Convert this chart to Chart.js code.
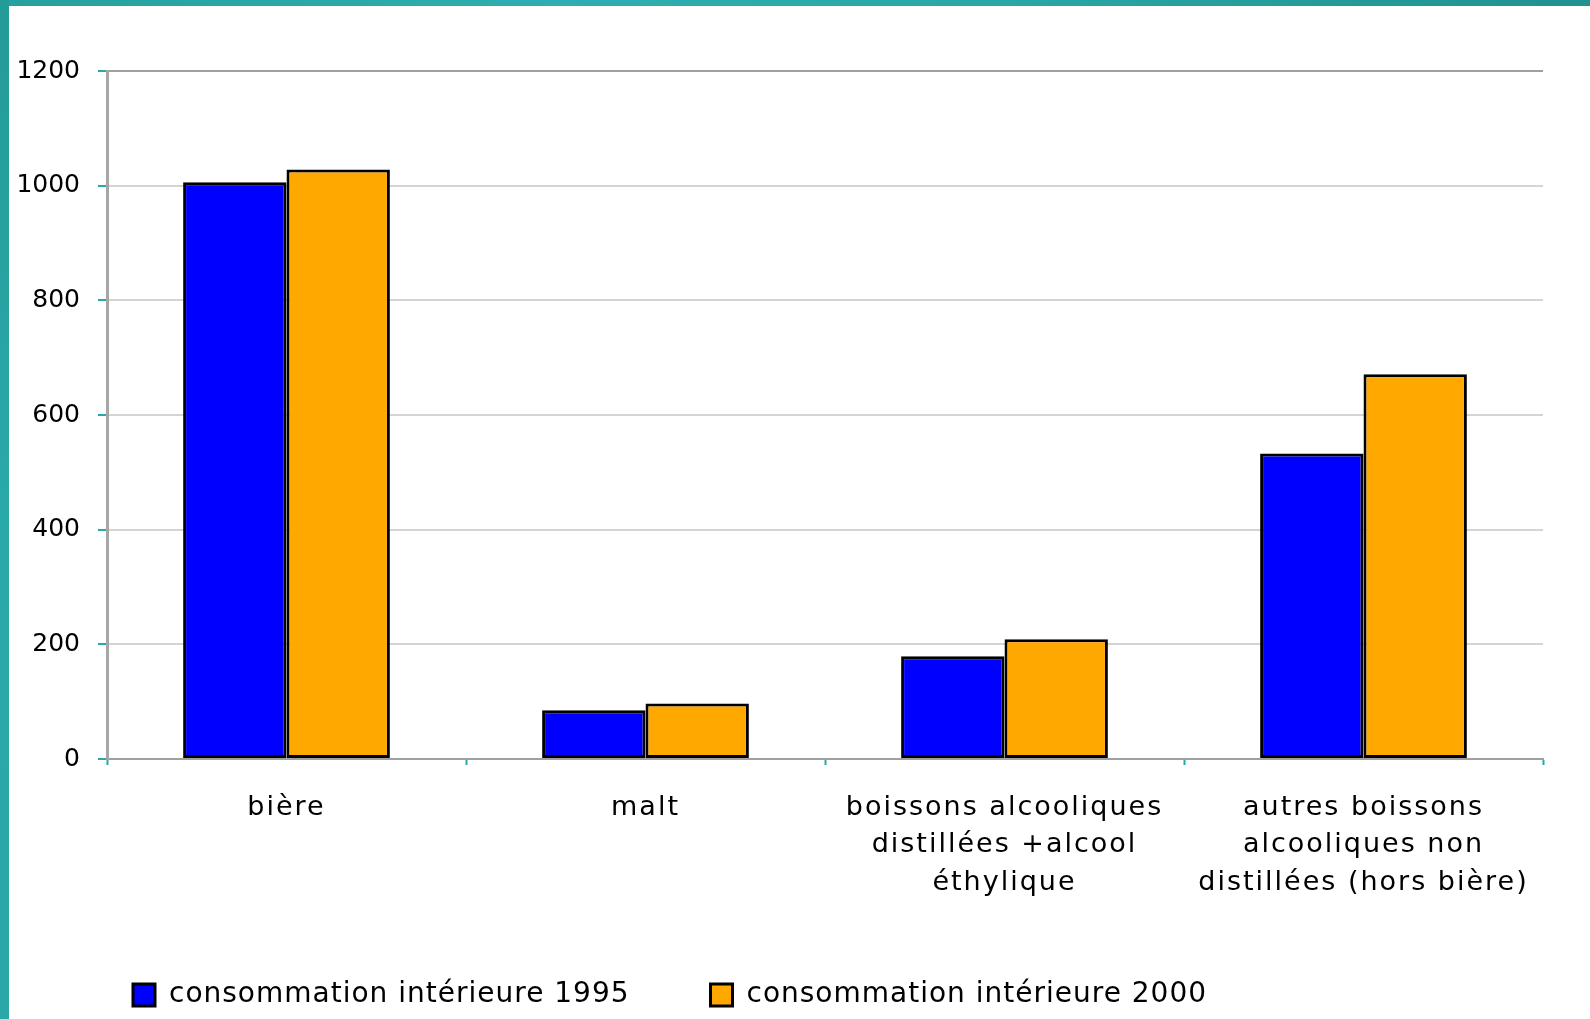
<!DOCTYPE html>
<html>
<head>
<meta charset="utf-8">
<script src="https://cdn.jsdelivr.net/npm/chart.js@4.4.1/dist/chart.umd.min.js"></script>
<style>
  html, body { margin: 0; padding: 0; background: #fff; }
  body { width: 1590px; height: 1019px; position: relative; overflow: hidden; }
  #topbar { position: absolute; left: 0; top: 0; width: 1590px; height: 6px;
    background: linear-gradient(to right, #26a09e 0%, #2eaeb1 35%, #2aa8a8 60%, #20928f 100%); }
  #leftbar { position: absolute; left: 0; top: 0; width: 9px; height: 1019px;
    background: linear-gradient(to bottom, #239b98 0%, #2aa9aa 50%, #2aa8a8 100%); }
  #wrap { position: absolute; left: 9px; top: 6px; width: 1581px; height: 1013px; }
</style>
</head>
<body>
<div id="topbar"></div>
<div id="leftbar"></div>
<div id="wrap"><canvas id="c"></canvas></div>
<script>
const categories = [
  "bière",
  "malt",
  ["boissons alcooliques", "distillées +alcool", "éthylique"],
  ["autres boissons", "alcooliques non", "distillées (hors bière)"]
];
const seriesNames = ["consommation intérieure 1995", "consommation intérieure 2000"];
const values1995 = [1006, 85, 179, 533];
const values2000 = [1028, 97, 209, 671];
const yTicks = [0, 200, 400, 600, 800, 1000, 1200];

const teal = "#2aa8a8";

function withSpacing(ctx, sp, fn) {
  const prev = ctx.letterSpacing;
  ctx.letterSpacing = sp;
  try { return fn(); } finally { ctx.letterSpacing = "0px"; }
}

function patchLegend(chart) {
  const lg = chart.legend;
  if (!lg || lg._patched) return;
  const ctx = chart.ctx;
  const origFit = lg.fit, origDraw = lg.draw;
  lg.fit = function () { return withSpacing(ctx, "1px", () => origFit.apply(this, arguments)); };
  lg.draw = function () { return withSpacing(ctx, "1px", () => origDraw.apply(this, arguments)); };
  lg._patched = true;
}

// Widen label clip areas and add letter spacing like the original rendering
const labelPlugin = {
  id: "labelTweaks",
  beforeInit(chart) { patchLegend(chart); },
  beforeUpdate(chart) { patchLegend(chart); },
  afterLayout(chart) {
    const ctx = chart.ctx;
    const xs = chart.scales.x, ys = chart.scales.y;
    ys.left = 0;
    xs.bottom = chart.height;
    if (!xs._patched) {
      const orig = xs.drawLabels;
      xs.drawLabels = function () { return withSpacing(ctx, "2px", () => orig.apply(this, arguments)); };
      xs._patched = true;
    }
  }
};

new Chart(document.getElementById("c"), {
  type: "bar",
  data: {
    labels: categories,
    datasets: [
      { label: seriesNames[0], data: values1995, backgroundColor: "#0000ff",
        borderColor: "#000000", borderWidth: 3, borderSkipped: false,
        categoryPercentage: 0.576, barPercentage: 1.0 },
      { label: seriesNames[1], data: values2000, backgroundColor: "#ffa800",
        borderColor: "#000000", borderWidth: 3, borderSkipped: false,
        categoryPercentage: 0.576, barPercentage: 1.0 }
    ]
  },
  plugins: [labelPlugin],
  options: {
    responsive: true,
    maintainAspectRatio: false,
    animation: false,
    layout: { padding: { left: 43, right: 47, top: 65, bottom: 0 } },
    plugins: {
      tooltip: { enabled: false },
      legend: {
        position: "bottom",
        align: "start",
        labels: {
          boxWidth: 22, boxHeight: 22, padding: 81,
          color: "#000",
          font: { family: "DejaVu Sans", size: 28 }
        }
      }
    },
    scales: {
      x: {
        offset: true,
        afterFit(scale) { scale.height = 141; },
        grid: { offset: true, drawOnChartArea: false, drawTicks: true,
                tickLength: 6, tickColor: teal, tickWidth: 2 },
        border: { display: true, color: "#a0a0a0", width: 2 },
        ticks: {
          color: "#000", padding: 24, maxRotation: 0, autoSkip: false,
          font: { family: "DejaVu Sans", size: 27, lineHeight: 1.39 }
        }
      },
      y: {
        min: 0, max: 1200,
        afterFit(scale) { scale.width = 55; },
        afterBuildTicks(scale) { scale.ticks = yTicks.map(v => ({ value: v })); },
        grid: {
          color: (ctx) => (ctx.tick && ctx.tick.value === 1200) ? "#a0a0a0" : "#d4d4d4",
          lineWidth: 2, drawTicks: true, tickLength: 9, tickColor: teal, tickWidth: 2
        },
        border: { display: true, color: "#a6a6a6", width: 3 },
        ticks: {
          color: "#000", padding: 18,
          font: { family: "DejaVu Sans", size: 25 },
          callback: (v) => String(v)
        }
      }
    }
  }
});
</script>
</body>
</html>
